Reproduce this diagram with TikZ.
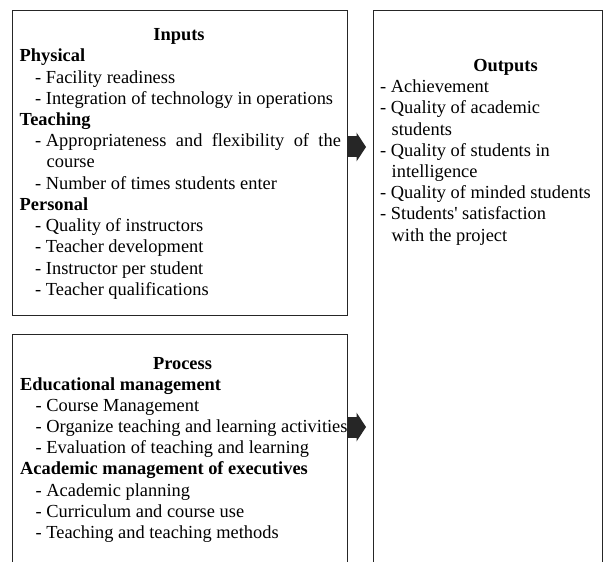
\documentclass[tikz,border=0pt]{standalone}
\usepackage{fontspec}
\setmainfont{Liberation Serif}[Ligatures=TeXOff]
\usetikzlibrary{arrows.meta,positioning}
\tikzset{
        box/.style={draw=black!85, line width=0.9pt, inner sep=0pt},
        ln/.style={anchor=base west, inner sep=0pt},
        ln h/.style={ln, font=\bfseries},
        ln i/.style={ln, xshift=15.5pt, execute at begin node={-\space}},
        ln c/.style={ln, xshift=27pt},
        boxtitle/.style={anchor=base, inner sep=0pt, font=\bfseries},
        fatarrow/.style={draw=black!85, line width=21pt,
            -{Triangle[length=9.5pt, width=29pt, line width=0pt]}},
    }
\begin{document}
\fontsize{18.4}{21.2}\selectfont
\begin{tikzpicture}[x = 1pt, y = -1pt]
                \useasboundingbox (0,0) rectangle (609,561);
                \clip (0,0) rectangle (609,561);
                % the three boxes
                \node[box, minimum width=335pt, minimum height=305pt] (inputs) at (179.5,162.5) {};
                \node[box, minimum width=335pt, minimum height=266pt] (process) at (179.5,467) {};
                \node[box, minimum width=229pt, minimum height=590pt] (outputs) at (487.5,305) {};
                % inputs
                \node[boxtitle] (in-title) at (179,41) {Inputs};
                \foreach \kind/\txt [count=\i from 0] in {h/Physical, i/Facility readiness,
                    i/Integration of technology in operations, h/Teaching,
                    i/{\makebox[295pt][s]{Appropriateness and flexibility of the}}, c/course,
                    i/Number of times students enter, h/Personal, i/Quality of instructors,
                    i/Teacher development, i/Instructor per student, i/Teacher qualifications}
                {
                    \node[ln \kind] (in-\i) at (19.5, 62+21.2*\i) {\txt};
                }
                % process
                \node[boxtitle] (pr-title) at (182.5,369) {Process};
                \foreach \kind/\txt [count=\i from 0] in {h/Educational management,
                    i/Course Management, i/Organize teaching and learning activities,
                    i/Evaluation of teaching and learning, h/Academic management of executives,
                    i/Academic planning, i/Curriculum and course use,
                    i/Teaching and teaching methods}
                {
                    \node[ln \kind] (pr-\i) at (20, 390+21.2*\i) {\txt};
                }
                % outputs
                \node[boxtitle] (out-title) at (505.5,71.5) {Outputs};
                \foreach \kind/\txt [count=\i from 0] in {i/Achievement, i/Quality of academic,
                    c/students, i/Quality of students in, c/intelligence,
                    i/Quality of minded students, i/Students' satisfaction, c/with the project}
                {
                    \node[ln \kind] (out-\i) at (364.5, 92.7+21.2*\i) {\txt};
                }
                % arrows
                \coordinate (tipA) at (366,147);
                \coordinate (tipB) at (366,427);
                \draw[fatarrow] (inputs.east |- tipA) -- (tipA);
                \draw[fatarrow] (process.east |- tipB) -- (tipB);
            \end{tikzpicture}
\end{document}
